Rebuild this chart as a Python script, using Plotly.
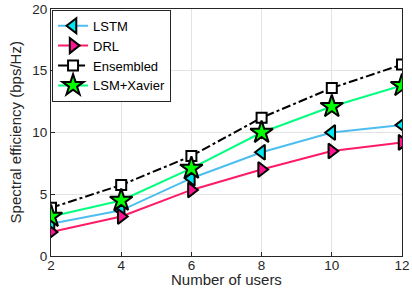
import plotly.graph_objects as go

users = [2, 4, 6, 8, 10, 12]
lstm = [2.6, 3.7, 6.3, 8.4, 10.0, 10.6]
drl = [1.95, 3.2, 5.35, 7.0, 8.5, 9.2]
ensembled = [3.9, 5.75, 8.1, 11.2, 13.6, 15.5]
lsm_xavier = [3.2, 4.5, 7.1, 10.0, 12.1, 13.8]

fig = go.Figure()
fig.add_trace(go.Scatter(x=users, y=lstm, name="LSTM", mode="lines+markers",
    line=dict(color="#4DBEEE", width=2),
    marker=dict(symbol="triangle-left", size=13, color="#00E5EE", line=dict(color="black", width=2))))
fig.add_trace(go.Scatter(x=users, y=drl, name="DRL", mode="lines+markers",
    line=dict(color="#FF1A66", width=2),
    marker=dict(symbol="triangle-right", size=13, color="#FF1493", line=dict(color="black", width=2))))
fig.add_trace(go.Scatter(x=users, y=ensembled, name="Ensembled", mode="lines+markers",
    line=dict(color="black", width=2, dash="dashdot"),
    marker=dict(symbol="square", size=10, color="white", line=dict(color="black", width=2))))
fig.add_trace(go.Scatter(x=users, y=lsm_xavier, name="LSM+Xavier", mode="lines+markers",
    line=dict(color="#00FF7F", width=2),
    marker=dict(symbol="star", size=17, color="#00FF00", line=dict(color="black", width=2))))

axis_common = dict(showgrid=True, gridcolor="#E3E3E3", gridwidth=1, zeroline=False,
    showline=True, linecolor="#262626", linewidth=1, mirror=True,
    ticks="inside", ticklen=4, tickcolor="#262626", automargin=False,
    tickfont=dict(family="Liberation Sans, Arial", size=13.5, color="#262626"))

fig.update_layout(
    width=412, height=290,
    margin=dict(l=51, r=10, t=9, b=34),
    paper_bgcolor="white", plot_bgcolor="white",
    font=dict(family="Liberation Sans, Arial", size=14, color="#262626"),
    xaxis=dict(range=[2, 12], tickvals=users, ticklabelstandoff=-3, **axis_common),
    yaxis=dict(range=[0, 20], tickvals=[0, 5, 10, 15, 20], **axis_common),
    legend=dict(x=0.003, y=0.997, xanchor="left", yanchor="top", bgcolor="white",
        bordercolor="#262626", borderwidth=1, font=dict(size=13, color="black"),
        tracegroupgap=0, itemwidth=30),
    showlegend=True,
    annotations=[
        dict(text="Number of users", xref="paper", yref="paper", x=0.5, y=-0.1377,
             xanchor="center", yanchor="bottom", showarrow=False,
             font=dict(size=15, color="#262626")),
        dict(text="Spectral efficiency (bps/Hz)", xref="paper", yref="paper", x=-0.1, y=0.5,
             xanchor="center", yanchor="middle", textangle=-90, showarrow=False,
             font=dict(size=15, color="#262626")),
    ],
)
fig.write_html("out.html", config={"displayModeBar": False},
               post_script="document.body.style.margin='0';document.body.style.padding='0';")
